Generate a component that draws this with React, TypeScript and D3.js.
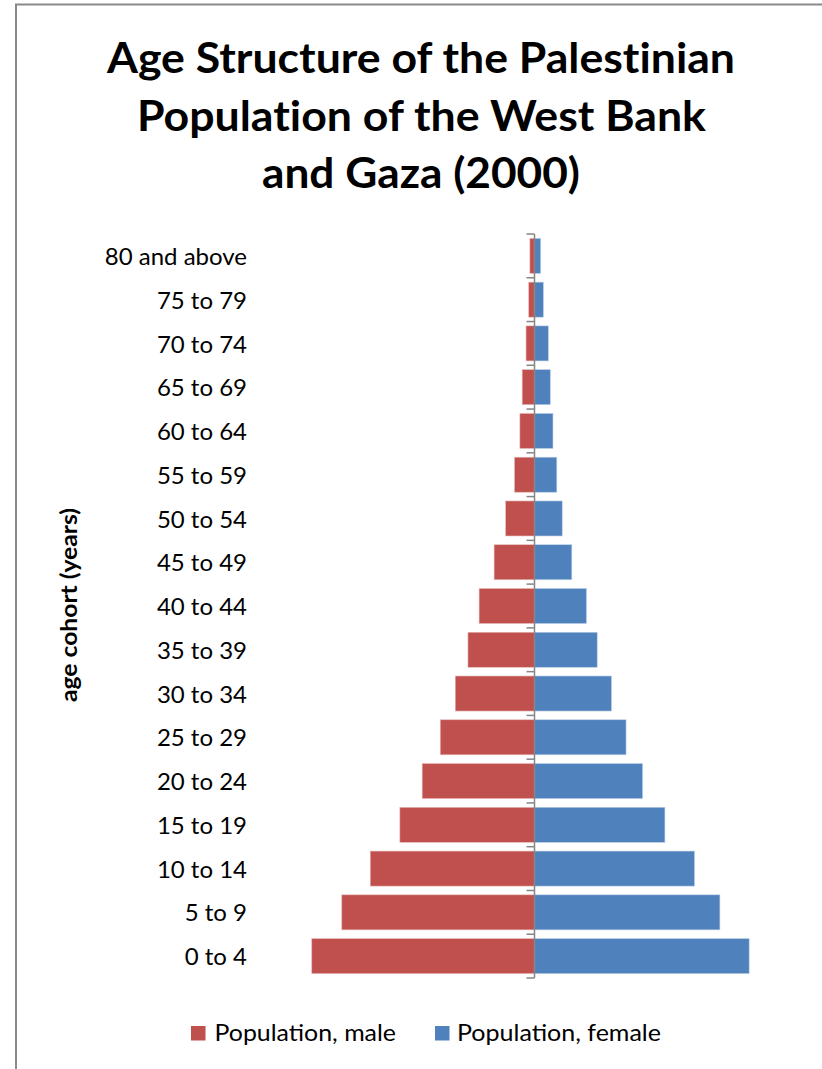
import React from "react";
import * as d3 from "d3";

const categories = [
  "80 and above", "75 to 79", "70 to 74", "65 to 69", "60 to 64", "55 to 59",
  "50 to 54", "45 to 49", "40 to 44", "35 to 39", "30 to 34", "25 to 29",
  "20 to 24", "15 to 19", "10 to 14", "5 to 9", "0 to 4",
];
// thousands of people
const male = [6, 7.5, 11, 16, 19, 26, 37.5, 52.5, 72, 86.5, 103, 122.5, 146, 175, 213.5, 250.5, 289.5];
const female = [8, 11.5, 18, 20.5, 24, 29, 36, 48.5, 67.5, 81.5, 100, 119, 140.5, 169.5, 208, 241, 279];
const titleLines = ["Age Structure of the Palestinian", "Population of the West Bank", "and Gaza (2000)"];
const seriesNames = ["Population, male", "Population, female"];

const W = 822, H = 1069;
const MALE_COLOR = "#C0504D";
const FEMALE_COLOR = "#4F81BD";
const FONT = "Lato, 'Open Sans', sans-serif";
const noLig = { fontVariantLigatures: "none", fontFeatureSettings: "'liga' 0, 'clig' 0" } as React.CSSProperties;

export default function App() {
  const cx = 534.5;
  const half = 230.8;
  const x = d3.scaleLinear().domain([-300, 300]).range([cx - half, cx + half]);
  const y = d3.scaleBand<string>().domain(categories).range([234, 978]).paddingInner(0.2).paddingOuter(0.1);
  const step = y.step();
  const ticks = d3.range(categories.length + 1).map((i) => 234 + i * step);

  const titleSpecs = [
    { y: 73, x0: 107, x1: 735 },
    { y: 131, x0: 137, x1: 706 },
    { y: 188, x0: 262, x1: 580 },
  ];

  return (
    <svg width={W} height={H} style={{ position: "absolute", left: 0, top: 0, background: "#fff" }}>
      <rect x={0} y={0} width={W} height={H} fill="#fff" />
      {/* chart frame */}
      <rect x={16} y={4.5} width={W + 20} height={H + 20} fill="none" stroke="#898989" strokeWidth={2} />

      {/* title */}
      {titleLines.map((t, i) => (
        <text
          key={t}
          x={titleSpecs[i].x0}
          y={titleSpecs[i].y}
          fontFamily={FONT}
          fontWeight={700}
          fontSize={42}
          textLength={titleSpecs[i].x1 - titleSpecs[i].x0}
          lengthAdjust="spacingAndGlyphs"
          fill="#000"
          style={noLig}
        >
          {t}
        </text>
      ))}

      {/* y axis title */}
      <text
        transform={`translate(77,605) rotate(-90)`}
        textAnchor="middle"
        fontFamily={FONT}
        fontWeight={700}
        fontSize={22}
        textLength={194}
        lengthAdjust="spacingAndGlyphs"
        fill="#000"
      >
        age cohort (years)
      </text>

      {/* bars */}
      {categories.map((c, i) => (
        <g key={c}>
          <rect
            x={x(-male[i])}
            y={y(c)!}
            width={x(0) - x(-male[i])}
            height={y.bandwidth()}
            fill={MALE_COLOR}
            stroke="#E6B9B8"
            strokeWidth={0.6}
          />
          <rect
            x={x(0)}
            y={y(c)!}
            width={x(female[i]) - x(0)}
            height={y.bandwidth()}
            fill={FEMALE_COLOR}
            stroke="#B9CDE5"
            strokeWidth={0.6}
          />
          <text
            x={247}
            y={y(c)! + y.bandwidth() / 2}
            dy="0.38em"
            textAnchor="end"
            fontFamily={FONT}
            fontSize={24}
            fill="#000"
          >
            {c}
          </text>
        </g>
      ))}

      {/* axis line and ticks */}
      <line x1={cx} x2={cx} y1={234} y2={978} stroke="#868686" strokeWidth={1.5} />
      {ticks.map((t, i) => (
        <line key={i} x1={cx - 8} x2={cx} y1={t} y2={t} stroke="#868686" strokeWidth={1.5} />
      ))}

      {/* legend */}
      <rect x={191} y={1026} width={14.5} height={14.5} fill={MALE_COLOR} />
      <text x={214.5} y={1041} fontFamily={FONT} fontSize={23} textLength={181.5} lengthAdjust="spacingAndGlyphs" fill="#000">
        {seriesNames[0]}
      </text>
      <rect x={435} y={1026} width={14.5} height={14.5} fill={FEMALE_COLOR} />
      <text x={457} y={1041} fontFamily={FONT} fontSize={23} textLength={204} lengthAdjust="spacingAndGlyphs" fill="#000">
        {seriesNames[1]}
      </text>
    </svg>
  );
}
